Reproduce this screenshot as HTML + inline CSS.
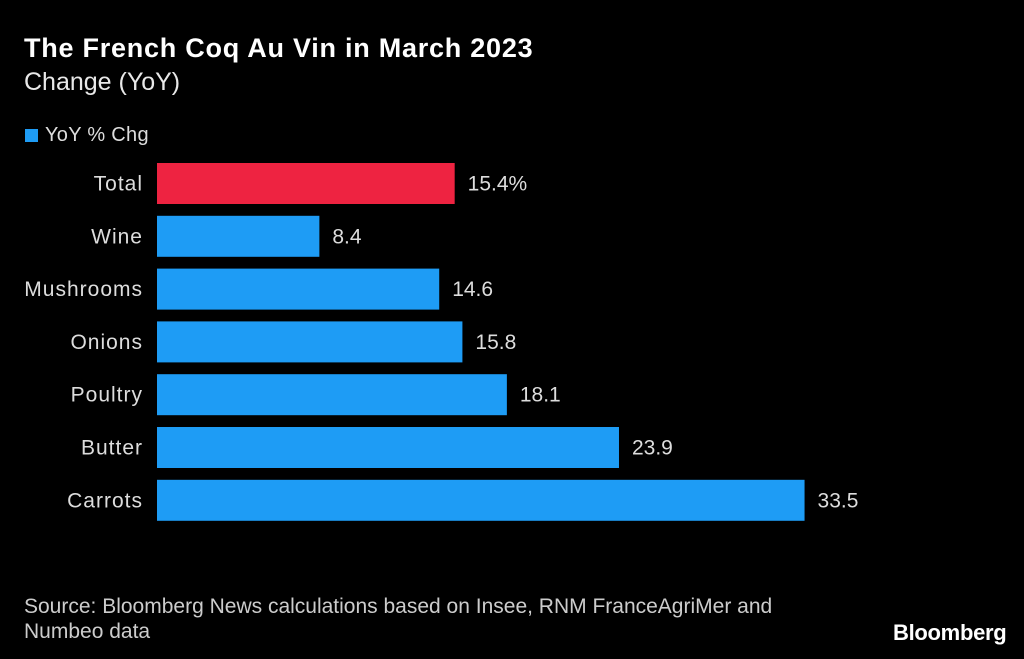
<!DOCTYPE html>
<html><head><meta charset="utf-8"><style>
body{margin:0;background:#000;width:1024px;height:659px;overflow:hidden;font-family:"Liberation Sans",sans-serif;color:#fff;position:relative}
.t{position:absolute;white-space:nowrap}
</style></head><body>
<div class="t" style="left:24px;top:33px;font-size:27px;font-weight:bold;letter-spacing:0.75px">The French Coq Au Vin in March 2023</div>
<div class="t" style="left:24px;top:68px;font-size:25px;color:#e8e8e8">Change (YoY)</div>
<div class="t" style="left:25px;top:124px;font-size:20px;color:#ddd;letter-spacing:0.3px"><span style="display:inline-block;width:13px;height:13px;background:#1e9cf5;margin-right:7px;vertical-align:-1px"></span>YoY % Chg</div>
<svg id="chart" width="1024" height="659" style="position:absolute;left:0;top:0"></svg>
<div class="t" style="left:24px;top:594px;font-size:21px;color:#ccc;line-height:25px">Source: Bloomberg News calculations based on Insee, RNM FranceAgriMer and<br>Numbeo data</div>
<div class="t" style="left:893px;top:620px;font-size:22px;font-weight:bold;letter-spacing:-0.3px">Bloomberg</div>
<script>
const categories=["Total","Wine","Mushrooms","Onions","Poultry","Butter","Carrots"];
const values=[15.4,8.4,14.6,15.8,18.1,23.9,33.5];
const valueLabels=["15.4%","8.4","14.6","15.8","18.1","23.9","33.5"];
const svg=document.getElementById('chart');
const NS="http://www.w3.org/2000/svg";
const x0=157,scale=19.33;
const xs=v=>x0+v*scale;
const ys=i=>163+i*52.8;
const bh=41;
categories.forEach((c,i)=>{
 const r=document.createElementNS(NS,'rect');
 
 
 r.setAttribute('x',x0);r.setAttribute('y',ys(i));
 r.setAttribute('width',xs(values[i])-x0);r.setAttribute('height',bh);
 r.setAttribute('fill',i===0?'#ee2341':'#1e9cf5');
 svg.appendChild(r);
 const l=document.createElementNS(NS,'text');
 
 
 l.setAttribute('x',143);l.setAttribute('y',ys(i)+bh/2+7);
 l.setAttribute('text-anchor','end');l.setAttribute('fill','#ddd');
 l.setAttribute('font-size','21');l.setAttribute('letter-spacing','1');
 l.textContent=c;svg.appendChild(l);
 const v=document.createElementNS(NS,'text');
 
 
 v.setAttribute('x',xs(values[i])+13);v.setAttribute('y',ys(i)+bh/2+7);
 v.setAttribute('fill','#ddd');v.setAttribute('font-size','21');
 v.textContent=valueLabels[i];svg.appendChild(v);
});
</script>
</body></html>
